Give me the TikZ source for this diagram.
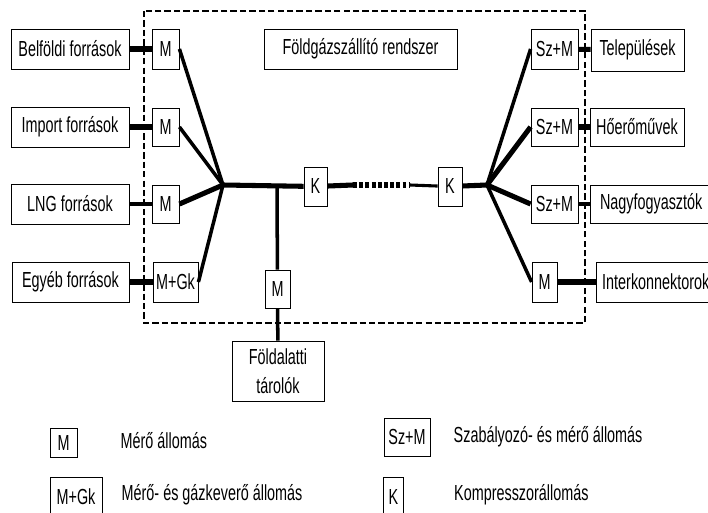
\documentclass[tikz,border=0pt]{standalone}
\usepackage{fontspec}
\setmainfont[FakeStretch=0.66]{Liberation Sans}
\usetikzlibrary{positioning}

\tikzset{
	box/.style={draw, line width=0.6pt, inner sep=0pt, minimum height=1cm, font=\fontsize{15.5}{18}\selectfont},
	legtext/.style={inner sep=0pt, font=\fontsize{15.5}{18}\selectfont},
	pipe/.style={line width=3.6pt},
	thinpipe/.style={line width=2.2pt},
	branch/.style={line width=2.5pt},
	border/.style={line width=1.4pt, dash pattern=on 4.5pt off 2.2pt}
}

\begin{document}
\begin{tikzpicture}[x=0.025cm, y=-0.025cm]
	\useasboundingbox (0,0) rectangle (708,512);
	\clip (0,0) rectangle (708,512);
	\draw [border] (144,11) rectangle (585,323);
	
	% forrasok
	\node [box, minimum width=2.95cm] (bel) at (70,49) {Belföldi források};
	\node [box, minimum width=2.95cm] (imp) at (70,127) {Import források};
	\node [box, minimum width=2.95cm] (lng) at (70,204) {LNG források};
	\node [box, minimum width=2.925cm] (egy) at (70.5,282) {Egyéb források};
	
	\node [box, minimum width=0.675cm] (belM) at (165.5,49) {M};
	\node [box, minimum width=0.675cm, minimum height=0.95cm] (impM) at (165.5,127) {M};
	\node [box, minimum width=0.675cm, minimum height=0.95cm] (lngM) at (165.5,204) {M};
	\node [box, minimum width=1.125cm] (egyM) at (175.5,282) {M+Gk};
	
	\node [box, minimum width=4.825cm] (cim) at (360.5,49) {Földgázszállító rendszer};
	
	\node [box, minimum width=0.575cm, minimum height=0.975cm] (k1) at (315.5,186.5) {K};
	\node [box, minimum width=0.6cm, minimum height=0.975cm] (k2) at (450,186.5) {K};
	
	\node [box, minimum width=0.625cm, minimum height=0.95cm] (tarM) at (277.5,289) {M};
	\node [box, minimum width=2.3cm, minimum height=1.5cm, align=center,
		font=\fontsize{15.5}{21}\selectfont] (tar) at (278,371) {Földalatti\\tárolók};
	
	% fogyasztok
	\node [box, minimum width=1.175cm] (telSM) at (554.5,49) {Sz+M};
	\node [box, minimum width=1.175cm, minimum height=0.95cm] (hoSM) at (554.5,127) {Sz+M};
	\node [box, minimum width=1.175cm, minimum height=0.95cm] (nagySM) at (554.5,204) {Sz+M};
	\node [box, minimum width=0.625cm] (intM) at (544.5,282) {M};
	
	\node [box, minimum width=2.325cm, minimum height=1.05cm] (tel) at (637.5,50) {Települések};
	\node [box, minimum width=2.35cm, minimum height=0.95cm] (ho) at (637,127) {Hőerőművek};
	\node [box, minimum width=3.05cm, minimum height=0.95cm, text width=2.9cm, align=left] (nagy) at (651,204) {\hspace{5pt}Nagyfogyasztók};
	\node [box, minimum width=3.0cm, text width=2.9cm, align=left] (int) at (656,282) {\hspace{3pt}Interkonnektorok};
	
	\coordinate (hubL) at (223,185);
	\coordinate (hubJ) at (277,185);
	\coordinate (dotA) at (353,185);
	\coordinate (dotB) at (410,185);
	\coordinate (hubR) at (487,185);
	
	\draw [pipe] (bel) -- (belM);
	\draw [pipe] (imp) -- (impM);
	\draw [thinpipe] (lng) -- (lngM);
	\draw [pipe] (egy) -- (egyM);
	
	\draw [branch] (belM.east) -- (hubL);
	\draw [branch] (impM.east) -- (hubL);
	\draw [pipe] (lngM.east) -- (hubL);
	\draw [branch] (egyM.east) -- (hubL);
	
	\draw [pipe] (hubL) -- (k1);
	\draw [branch] (hubJ) -- (tarM);
	\draw [branch] (tarM) -- (tar);
	\draw [pipe] (k1) -- (dotA);
	\draw [pipe, dash pattern=on 2.8pt off 1.6pt] (dotA) -- (dotB);
	\draw [thinpipe] (dotB) -- (k2);
	\draw [pipe] (k2) -- (hubR);
	
	\draw [branch] (hubR) -- (telSM.west);
	\draw [pipe] (hubR) -- (hoSM.west);
	\draw [pipe] (hubR) -- (nagySM.west);
	\draw [branch] (hubR) -- (intM.west);
	
	\draw [pipe] (telSM) -- (tel);
	\draw [pipe] (hoSM) -- (ho);
	\draw [thinpipe] (nagySM) -- (nagy);
	\draw [pipe] (intM) -- (int);
	
	% jelmagyarazat
	\node [box, minimum width=0.675cm, minimum height=0.725cm] (lM) at (63.5,442.5) {M};
	\node [legtext, right=1.075cm of lM.east, anchor=west, yshift=1.5pt] {Mérő állomás};
	\node [box, minimum width=1.15cm, minimum height=0.95cm] (lSM) at (407,437) {Sz+M};
	\node [legtext, right=0.575cm of lSM.east, anchor=west] {Szabályozó- és mérő állomás};
	\node [box, minimum width=1.3cm, minimum height=1.0cm] (lMGk) at (76,497) {M+Gk};
	\node [legtext, right=0.475cm of lMGk.east, anchor=west, yshift=1.5pt] {Mérő- és gázkeverő állomás};
	\node [box, minimum width=0.5cm, minimum height=1.0cm] (lK) at (393.5,497) {K};
	\node [legtext, right=1.25cm of lK.east, anchor=west, yshift=1.5pt] {Kompresszorállomás};
\end{tikzpicture}
\end{document}
